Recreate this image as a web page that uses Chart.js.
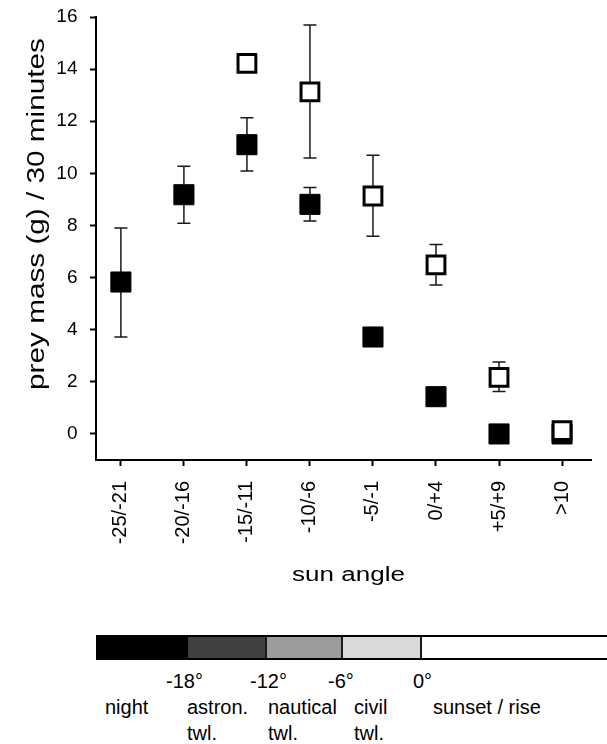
<!DOCTYPE html>
<html>
<head>
<meta charset="utf-8">
<script src="https://cdn.jsdelivr.net/npm/chart.js@4.4.1/dist/chart.umd.min.js"></script>
<style>
html,body{margin:0;padding:0;background:#fff;}
#wrap{position:relative;width:607px;height:744px;overflow:hidden;background:#fff;font-family:"Liberation Sans",Arial,sans-serif;color:#000;}
#c{position:absolute;left:0;top:0;}
.bar{position:absolute;left:96px;top:635px;width:520px;height:25px;box-sizing:border-box;border:2px solid #000;}
.seg{position:absolute;top:0;height:21px;box-sizing:border-box;}
.lbl{position:absolute;font-size:20px;line-height:20px;white-space:nowrap;}
</style>
</head>
<body>
<div id="wrap">
  <canvas id="c" width="607" height="600"></canvas>
  <div class="bar">
    <div class="seg" style="left:0;width:90px;background:#000;"></div>
    <div class="seg" style="left:88px;width:81px;background:#404040;border-left:2px solid #000;"></div>
    <div class="seg" style="left:167px;width:78px;background:#9c9c9c;border-left:2px solid #1a1a1a;"></div>
    <div class="seg" style="left:243px;width:81px;background:#d9d9d9;border-left:2px solid #1a1a1a;"></div>
    <div class="seg" style="left:322px;width:200px;background:#fff;border-left:2px solid #1a1a1a;"></div>
  </div>
  <div class="lbl" style="left:166px;top:671px;">-18°</div>
  <div class="lbl" style="left:250px;top:671px;">-12°</div>
  <div class="lbl" style="left:328px;top:671px;">-6°</div>
  <div class="lbl" style="left:413px;top:671px;">0°</div>
  <div class="lbl" style="left:105px;top:697px;">night</div>
  <div class="lbl" style="left:187px;top:697px;">astron.</div>
  <div class="lbl" style="left:268px;top:697px;">nautical</div>
  <div class="lbl" style="left:354px;top:697px;">civil</div>
  <div class="lbl" style="left:433px;top:697px;">sunset / rise</div>
  <div class="lbl" style="left:187px;top:723px;">twl.</div>
  <div class="lbl" style="left:268px;top:723px;">twl.</div>
  <div class="lbl" style="left:354px;top:723px;">twl.</div>
</div>
<script>
// ---- data ----
const categories = ['-25/-21', '-20/-16', '-15/-11', '-10/-6', '-5/-1', '0/+4', '+5/+9', '>10'];
// filled squares
const filledMean = [5.83, 9.18, 11.1, 8.81, 3.72, 1.43, 0.0, 0.0];
const filledLow  = [3.72, 8.09, 10.09, 8.17, null, null, null, null];
const filledHigh = [7.9, 10.27, 12.13, 9.46, null, null, null, null];
// open squares
const openMean = [null, null, 14.22, 13.13, 9.13, 6.49, 2.17, 0.13];
const openLow  = [null, null, null, 10.59, 7.59, 5.72, 1.63, null];
const openHigh = [null, null, null, 15.69, 10.69, 7.27, 2.76, null];
const yTickValues = [0, 2, 4, 6, 8, 10, 12, 14, 16];
const xTitle = 'sun angle';
const yTitle = 'prey mass (g) / 30 minutes';

const FONT = '"Liberation Sans", Arial, sans-serif';
Chart.defaults.font.family = FONT;
Chart.defaults.color = '#000';

function toPoints(arr) {
  const out = [];
  arr.forEach((v, i) => { if (v !== null) out.push({x: i, y: v}); });
  return out;
}

const errorBars = {
  id: 'errorBars',
  beforeDatasetsDraw(chart) {
    const {ctx, scales: {x, y}} = chart;
    ctx.save();
    ctx.strokeStyle = '#1a1a1a';
    ctx.lineWidth = 1.5;
    chart.data.datasets.forEach(ds => {
      ds.errLow.forEach((lo, i) => {
        const hi = ds.errHigh[i];
        if (lo === null || hi === null) return;
        const px = x.getPixelForValue(i);
        const pl = y.getPixelForValue(lo);
        const ph = y.getPixelForValue(hi);
        ctx.beginPath();
        ctx.moveTo(px, pl); ctx.lineTo(px, ph);
        ctx.moveTo(px - 6.5, pl); ctx.lineTo(px + 6.5, pl);
        ctx.moveTo(px - 6.5, ph); ctx.lineTo(px + 6.5, ph);
        ctx.stroke();
      });
    });
    ctx.restore();
  }
};

const axisTitles = {
  id: 'axisTitles',
  afterDraw(chart) {
    const ctx = chart.ctx;
    ctx.save();
    ctx.fillStyle = '#000';
    ctx.textAlign = 'center';
    ctx.textBaseline = 'alphabetic';
    // y title
    ctx.font = '23.5px ' + FONT;
    ctx.save();
    ctx.translate(43.6, 214);
    ctx.rotate(-Math.PI / 2);
    ctx.scale(1.265, 1);
    ctx.fillText(yTitle, 0, 0);
    ctx.restore();
    // x title
    ctx.font = '20px ' + FONT;
    ctx.save();
    ctx.translate(348.5, 581);
    ctx.scale(1.3, 1);
    ctx.fillText(xTitle, 0, 0);
    ctx.restore();
    ctx.restore();
  }
};

new Chart(document.getElementById('c'), {
  type: 'scatter',
  data: {
    datasets: [
      {
        label: 'open',
        data: toPoints(openMean),
        errLow: openLow, errHigh: openHigh,
        pointStyle: 'rect',
        pointRadius: 12.6, pointHoverRadius: 12.6,
        pointBackgroundColor: '#fff',
        pointBorderColor: '#000',
        pointBorderWidth: 3, pointHoverBorderWidth: 3,
        showLine: false
      },
      {
        label: 'filled',
        data: toPoints(filledMean),
        errLow: filledLow, errHigh: filledHigh,
        pointStyle: 'rect',
        pointRadius: 14.2, pointHoverRadius: 14.2,
        pointBackgroundColor: '#000',
        pointBorderColor: '#000',
        pointBorderWidth: 1, pointHoverBorderWidth: 1,
        showLine: false
      }
    ]
  },
  options: {
    responsive: false,
    animation: false,
    events: [],
    devicePixelRatio: 1,
    layout: {padding: {top: 17, right: 0, bottom: 0, left: 0}},
    plugins: {legend: {display: false}, tooltip: {enabled: false}},
    scales: {
      x: {
        type: 'linear',
        min: -0.395, max: 7.466,
        afterBuildTicks: s => { s.ticks = categories.map((_, i) => ({value: i})); },
        afterFit: s => { s.height = 140; s.paddingLeft = 0; s.paddingRight = 0; },
        ticks: {
          autoSkip: false, minRotation: 90, maxRotation: 90,
          padding: 15,
          font: {size: 20},
          color: '#000',
          callback: v => categories[v] !== undefined ? categories[v] : ''
        },
        grid: {drawOnChartArea: false, drawTicks: true, tickLength: 6, tickWidth: 2, tickColor: '#000'},
        border: {display: true, color: '#000', width: 2}
      },
      y: {
        type: 'linear',
        min: -1, max: 16,
        afterBuildTicks: s => { s.ticks = yTickValues.map(v => ({value: v})); },
        afterFit: s => { s.width = 96; s.paddingTop = 0; s.paddingBottom = 0; },
        ticks: {padding: 12.5, font: {size: 19}, color: '#000'},
        grid: {drawOnChartArea: false, drawTicks: true, tickLength: 6, tickWidth: 2, tickColor: '#000'},
        border: {display: true, color: '#000', width: 2}
      }
    }
  },
  plugins: [errorBars, axisTitles]
});
</script>
</body>
</html>
